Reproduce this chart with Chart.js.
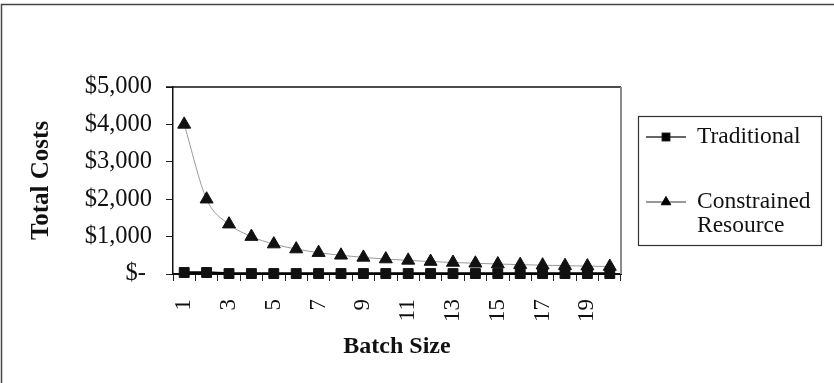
<!DOCTYPE html>
<html>
<head>
<meta charset="utf-8">
<script src="https://cdn.jsdelivr.net/npm/chart.js@4/dist/chart.umd.min.js"></script>
<style>
  html, body { margin: 0; padding: 0; background: #fff; }
  #wrap { position: relative; width: 834px; height: 383px; }
</style>
</head>
<body>
<div id="wrap"><canvas id="c" width="834" height="383"></canvas></div>
<script>
// Batch sizes on the category axis
const batchSizes = ['1','2','3','4','5','6','7','8','9','10','11','12','13','14','15','16','17','18','19','20'];
// Total cost per batch size, traditional costing
const traditionalCosts = [40, 40, 12, 12, 12, 12, 12, 12, 12, 12, 12, 12, 12, 12, 12, 12, 12, 12, 12, 12];
// Total cost per batch size, constrained-resource costing
const constrainedCosts = [4000, 2000, 1333, 1000, 800, 667, 571, 500, 444, 400, 364, 333, 308, 286, 267, 250, 235, 222, 211, 200];
// Value-axis ticks
const costTicks = [0, 1000, 2000, 3000, 4000, 5000];
const seriesNames = ['Traditional', ['Constrained', 'Resource']];

const SERIF = '"Liberation Serif", "Times New Roman", serif';

function money(v) {
  if (v === 0) return '$- ';
  return '$' + v.toLocaleString('en-US');
}

// Outer frame, plot-area frame and the boxed legend
const framePlugin = {
  id: 'frame',
  beforeDraw(chart) {
    const ctx = chart.ctx;
    ctx.save();
    ctx.fillStyle = '#fff';
    ctx.fillRect(0, 0, chart.width, chart.height);
    ctx.strokeStyle = '#444';
    ctx.lineWidth = 1.5;
    ctx.beginPath();
    ctx.moveTo(1.5, chart.height);
    ctx.lineTo(1.5, 4.5);
    ctx.lineTo(chart.width, 4.5);
    ctx.stroke();
    ctx.restore();
  },
  afterDatasetsDraw(chart) {
    const {ctx, chartArea: a} = chart;
    ctx.save();
    // top edge of the plot area
    ctx.strokeStyle = '#111';
    ctx.lineWidth = 1.5;
    ctx.beginPath();
    ctx.moveTo(a.left - 7, a.top);
    ctx.lineTo(a.right, a.top);
    ctx.stroke();
    // right edge of the plot area
    ctx.strokeStyle = '#8c8c8c';
    ctx.lineWidth = 2;
    ctx.beginPath();
    ctx.moveTo(a.right, a.top);
    ctx.lineTo(a.right, a.bottom);
    ctx.stroke();
    ctx.restore();
  },
  afterDraw(chart) {
    const ctx = chart.ctx;
    const box = {x: 638.5, y: 116.5, w: 183, h: 129};
    ctx.save();
    ctx.strokeStyle = '#333';
    ctx.lineWidth = 1.2;
    ctx.strokeRect(box.x, box.y, box.w, box.h);
    ctx.font = '23.5px ' + SERIF;
    ctx.fillStyle = '#111';
    ctx.textBaseline = 'middle';
    ctx.textAlign = 'left';
    const rows = [
      {ds: 0, y: 137, lw: 1.5},
      {ds: 1, y: 202, lw: 1}
    ];
    rows.forEach((r, i) => {
      const ds = chart.data.datasets[r.ds];
      ctx.strokeStyle = '#333';
      ctx.lineWidth = r.lw;
      ctx.beginPath();
      ctx.moveTo(646, r.y);
      ctx.lineTo(686, r.y);
      ctx.stroke();
      Chart.helpers.drawPoint(ctx, {
        pointStyle: ds.pointStyle,
        radius: ds.pointRadius * 0.75,
        borderWidth: 1
      }, 666, r.y);
      ctx.fillStyle = '#000';
      ctx.strokeStyle = '#000';
      ctx.fill();
      const name = seriesNames[i];
      const lines = Array.isArray(name) ? name : [name];
      ctx.fillStyle = '#111';
      lines.forEach((t, k) => ctx.fillText(t, 697, r.y + k * 24));
    });
    ctx.restore();
  }
};

new Chart(document.getElementById('c'), {
  type: 'line',
  data: {
    labels: batchSizes,
    datasets: [
      {
        label: 'Traditional',
        data: traditionalCosts,
        borderColor: '#000',
        borderWidth: 2.5,
        backgroundColor: '#111',
        pointStyle: 'rect',
        pointRadius: 7,
        pointBorderWidth: 1,
        pointBorderColor: '#111',
        pointBackgroundColor: '#111',
        tension: 0,
        clip: false,
        order: 1
      },
      {
        label: 'Constrained Resource',
        data: constrainedCosts,
        borderColor: '#9a9a9a',
        borderWidth: 1,
        backgroundColor: '#111',
        pointStyle: 'triangle',
        pointRadius: 7.5,
        pointBorderWidth: 1,
        pointBorderColor: '#111',
        pointBackgroundColor: '#111',
        cubicInterpolationMode: 'monotone',
        clip: false,
        order: 0
      }
    ]
  },
  options: {
    responsive: false,
    animation: false,
    devicePixelRatio: 1,
    layout: { padding: { top: 87, right: 213, bottom: 0, left: 0 } },
    plugins: { legend: { display: false }, tooltip: { enabled: false } },
    scales: {
      x: {
        offset: true,
        grid: {
          offset: true,
          drawOnChartArea: false,
          drawTicks: true,
          tickLength: 7,
          tickColor: '#222',
          tickWidth: 1
        },
        border: { color: '#111', width: 2 },
        ticks: {
          autoSkip: false,
          minRotation: 90,
          maxRotation: 90,
          padding: 18,
          color: '#111',
          font: { family: SERIF, size: 23 },
          callback: function (v, i) { return i % 2 === 0 ? this.getLabelForValue(v) : ''; }
        },
        title: {
          display: true,
          text: 'Batch Size',
          color: '#111',
          font: { family: SERIF, size: 24, weight: 'bold' },
          padding: { top: 0, bottom: 22 }
        },
        afterFit(scale) { scale.height = 109; }
      },
      y: {
        min: 0,
        max: 5000,
        afterBuildTicks(scale) { scale.ticks = costTicks.map(v => ({value: v})); },
        grid: {
          drawOnChartArea: false,
          drawTicks: true,
          tickLength: 7,
          tickColor: '#222'
        },
        border: { color: '#111', width: 1.5 },
        ticks: {
          padding: 14,
          color: '#111',
          font: { family: SERIF, size: 24.5 },
          callback: (v) => money(v)
        },
        title: {
          display: true,
          text: 'Total Costs',
          color: '#111',
          font: { family: SERIF, size: 25, weight: 'bold' },
          padding: { top: 27, bottom: 0 }
        },
        afterFit(scale) { scale.width = 173; }
      }
    }
  },
  plugins: [framePlugin]
});
</script>
</body>
</html>
